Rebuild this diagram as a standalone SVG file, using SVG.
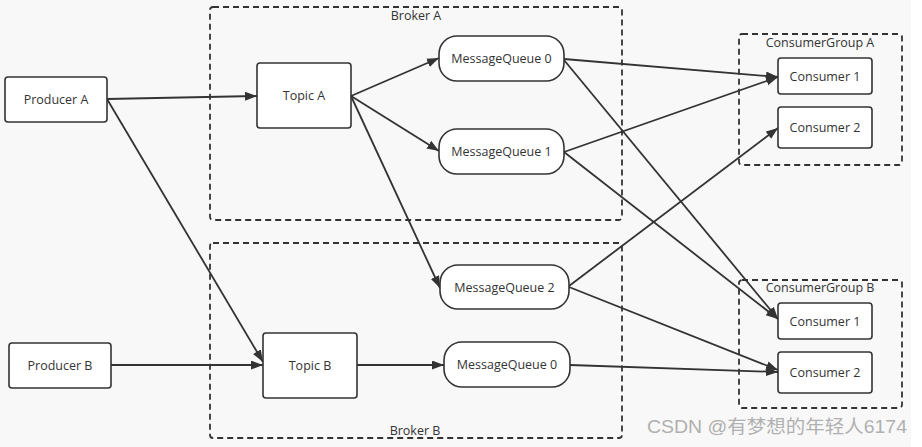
<svg xmlns="http://www.w3.org/2000/svg" width="922" height="447" viewBox="0 0 922 447">
<defs>
<style>
.bg{fill:#f8f8f8}
.box{fill:#ffffff;stroke:#333;stroke-width:1.6}
.grp{fill:none;stroke:#333;stroke-width:1.8;stroke-dasharray:6,4}
.lbl{font-family:"Open Sans","Noto Sans",sans-serif;font-size:12.5px;fill:#333;text-anchor:middle;dominant-baseline:central}
.glbl{font-family:"Open Sans","Noto Sans",sans-serif;font-size:12.5px;fill:#333;text-anchor:middle}
.edge{fill:none;stroke:#333;stroke-width:1.8;marker-end:url(#arr)}
.wm{font-family:"Liberation Sans","Noto Sans CJK SC",sans-serif;font-size:18px;fill:#b0b0b0}
</style>
<marker id="arr" markerUnits="userSpaceOnUse" markerWidth="13" markerHeight="10" refX="12" refY="4.5" orient="auto">
<path d="M0,0 L12,4.5 L0,9 z" fill="#333"/>
</marker>
</defs>
<rect x="0" y="0" width="922" height="447" fill="#ffffff"/>
<rect class="bg" x="0" y="0" width="911" height="447"/>

<g id="brokerA"><rect class="grp" x="210" y="7" width="412" height="213" rx="3"/><text class="glbl" x="416" y="20">Broker A</text></g>
<g id="brokerB"><rect class="grp" x="210" y="243" width="412" height="195" rx="3"/><text class="glbl" x="415" y="435">Broker B</text></g>
<g id="groupA"><rect class="grp" x="739" y="34" width="163" height="131" rx="3"/><text class="glbl" x="820" y="47">ConsumerGroup A</text></g>
<g id="groupB"><rect class="grp" x="739" y="280" width="163" height="128" rx="3"/><text class="glbl" x="820" y="292">ConsumerGroup B</text></g>

<g id="connectors">
<line class="edge" x1="107" y1="99" x2="257" y2="96"/>
<line class="edge" x1="107" y1="99" x2="263" y2="362"/>
<line class="edge" x1="351" y1="96" x2="439" y2="58"/>
<line class="edge" x1="351" y1="96" x2="439" y2="151"/>
<line class="edge" x1="351" y1="96" x2="440" y2="288"/>
<line class="edge" x1="111" y1="365" x2="263" y2="365"/>
<line class="edge" x1="357" y1="365" x2="444" y2="365"/>
<line class="edge" x1="564" y1="59" x2="778" y2="77"/>
<line class="edge" x1="564" y1="60" x2="778" y2="319"/>
<line class="edge" x1="564" y1="152" x2="778" y2="77"/>
<line class="edge" x1="564" y1="152" x2="778" y2="319"/>
<line class="edge" x1="569" y1="286" x2="778" y2="128"/>
<line class="edge" x1="569" y1="287" x2="778" y2="370"/>
<line class="edge" x1="570" y1="365" x2="778" y2="372"/>
</g>

<g id="producerA"><rect class="box" x="5" y="77" width="102" height="45" rx="3"/><text class="lbl" x="56" y="99.5">Producer A</text></g>
<g id="producerB"><rect class="box" x="9" y="343" width="102" height="45" rx="3"/><text class="lbl" x="60" y="365.5">Producer B</text></g>
<g id="topicA"><rect class="box" x="257" y="63" width="94" height="65" rx="3"/><text class="lbl" x="304" y="95.5">Topic A</text></g>
<g id="topicB"><rect class="box" x="263" y="333" width="94" height="65" rx="3"/><text class="lbl" x="310" y="365.5">Topic B</text></g>
<g id="mqA0"><rect class="box" x="439" y="36" width="125" height="45" rx="18"/><text class="lbl" x="501.5" y="58.5">MessageQueue 0</text></g>
<g id="mqA1"><rect class="box" x="439" y="129" width="125" height="45" rx="18"/><text class="lbl" x="501.5" y="151.5">MessageQueue 1</text></g>
<g id="mq2"><rect class="box" x="440" y="265" width="129" height="44" rx="18"/><text class="lbl" x="504.5" y="287">MessageQueue 2</text></g>
<g id="mqB0"><rect class="box" x="444" y="342" width="126" height="45" rx="18"/><text class="lbl" x="507" y="364.5">MessageQueue 0</text></g>
<g id="consA1"><rect class="box" x="778" y="58" width="94" height="36" rx="3"/><text class="lbl" x="825" y="76">Consumer 1</text></g>
<g id="consA2"><rect class="box" x="778" y="107" width="94" height="41" rx="3"/><text class="lbl" x="825" y="127.5">Consumer 2</text></g>
<g id="consB1"><rect class="box" x="778" y="303" width="94" height="36" rx="3"/><text class="lbl" x="825" y="321">Consumer 1</text></g>
<g id="consB2"><rect class="box" x="778" y="352" width="94" height="41" rx="3"/><text class="lbl" x="825" y="372.5">Consumer 2</text></g>

<text class="wm" x="647" y="433" textLength="260" lengthAdjust="spacingAndGlyphs">CSDN @有梦想的年轻人6174</text>
</svg>
